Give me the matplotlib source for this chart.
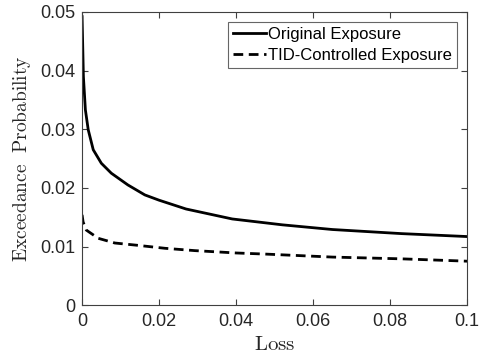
import numpy as np
import matplotlib
matplotlib.use("Agg")
import matplotlib.pyplot as plt

# ── Data ────────────────────────────────────────────────────────────────────
loss_orig = [0.0, 0.00034, 0.00086, 0.0016, 0.0029, 0.005, 0.0076, 0.0119,
             0.0163, 0.0200, 0.027, 0.039, 0.052, 0.065, 0.083, 0.1]
prob_orig = [0.0492, 0.0390, 0.0333, 0.0299, 0.0265, 0.0242, 0.0225, 0.0205,
             0.0188, 0.0179, 0.0164, 0.0147, 0.0137, 0.0129, 0.0122, 0.0117]

loss_tid = [0.0, 0.00026, 0.0011, 0.0042, 0.0085, 0.0145, 0.0215, 0.0293,
            0.040, 0.048, 0.065, 0.083, 0.1]
prob_tid = [0.0154, 0.0142, 0.0128, 0.0114, 0.0106, 0.0102, 0.0097, 0.0093,
            0.0089, 0.0087, 0.0082, 0.0079, 0.0075]

plt.rcParams['font.family'] = ['Liberation Sans', 'DejaVu Sans']
plt.rcParams['mathtext.fontset'] = 'cm'

fig = plt.figure(figsize=(4.8, 3.62), dpi=100)
ax = fig.add_axes([0.171, 0.157, 0.802, 0.81])

ax.plot(loss_orig, prob_orig, color='black', lw=2.0, label='Original Exposure')
ax.plot(loss_tid, prob_tid, color='black', lw=2.0, ls=(0, (3.5, 2.0)),
        label='TID-Controlled Exposure')

ax.set_xlim(0, 0.1)
ax.set_ylim(0, 0.05)
ax.set_xticks([0, 0.02, 0.04, 0.06, 0.08, 0.1])
ax.set_xticklabels(['0', '0.02', '0.04', '0.06', '0.08', '0.1'])
ax.set_yticks([0, 0.01, 0.02, 0.03, 0.04, 0.05])
ax.set_yticklabels(['0', '0.01', '0.02', '0.03', '0.04', '0.05'])
ax.tick_params(direction='in', top=True, right=True, labelsize=13,
               color='0.25', labelcolor='0.15', length=4)
ax.tick_params(axis='x', pad=6)
ax.tick_params(axis='y', pad=5)
for s in ax.spines.values():
    s.set_color('0.25')

ax.set_xlabel(r'$\mathrm{Loss}$', fontsize=15, color='0.15', labelpad=3)
ax.set_ylabel(r'$\mathrm{Exceedance\ \ Probability}$', fontsize=14, color='0.15', labelpad=5)

leg = ax.legend(loc='upper right', fontsize=12, frameon=True, fancybox=False,
                edgecolor='0.25', handlelength=2.0, handletextpad=0.1,
                borderpad=0.3, labelspacing=0.35, borderaxespad=0.6)
leg.get_frame().set_linewidth(0.8)

fig.savefig('out.png', dpi=100)
